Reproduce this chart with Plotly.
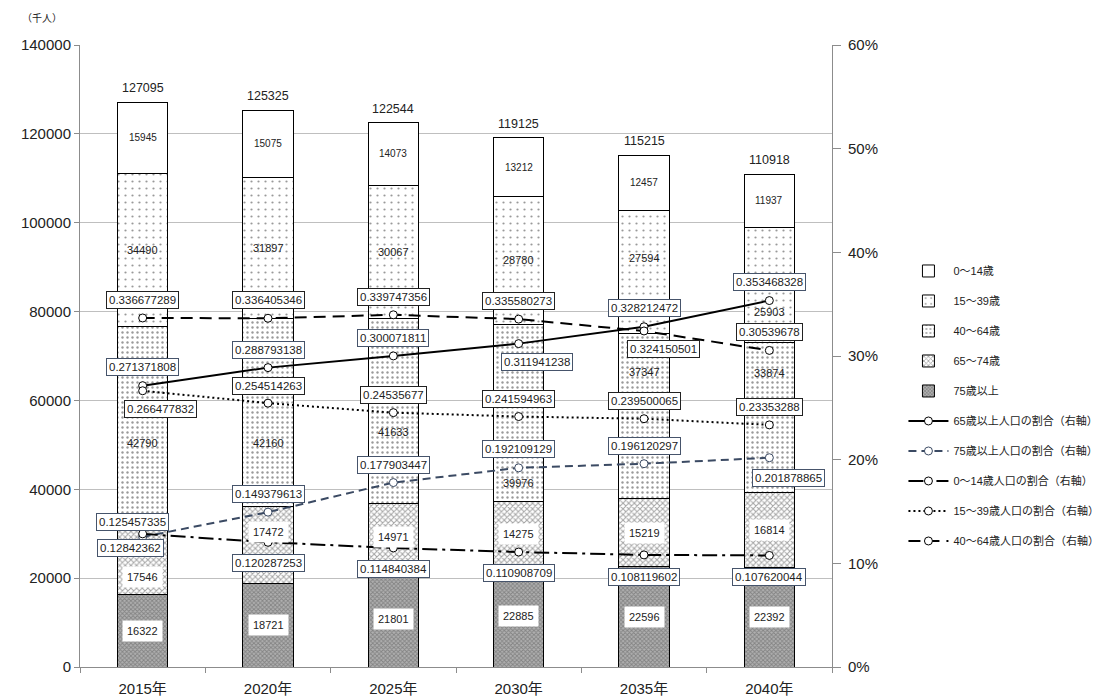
import plotly.graph_objects as go
import numpy as np

# ---- data ----
years = ["2015年", "2020年", "2025年", "2030年", "2035年", "2040年"]
totals = [127095, 125325, 122544, 119125, 115215, 110918]

pop_75_plus = [16322, 18721, 21801, 22885, 22596, 22392]
pop_65_74 = [17546, 17472, 14971, 14275, 15219, 16814]
pop_40_64 = [42790, 42160, 41633, 39976, 37347, 33874]
pop_15_39 = [34490, 31897, 30067, 28780, 27594, 25903]
pop_0_14 = [15945, 15075, 14073, 13212, 12457, 11937]

ratio_65_plus = [0.271371808, 0.288793138, 0.300071811, 0.311941238, 0.328212472, 0.353468328]
ratio_75_plus = [0.125457335, 0.149379613, 0.177903447, 0.192109129, 0.196120297, 0.201878865]
ratio_0_14 = [0.12842362, 0.120287253, 0.114840384, 0.110908709, 0.108119602, 0.107620044]
ratio_15_39 = [0.266477832, 0.254514263, 0.24535677, 0.241594963, 0.239500065, 0.23353288]
ratio_40_64 = [0.336677289, 0.336405346, 0.339747356, 0.335580273, 0.324150501, 0.30539678]

FONT = "Arial, 'Liberation Sans', 'Noto Sans CJK JP', sans-serif"
TXT = "#222222"

fig = go.Figure()

# ---- stacked bars (bottom to top) ----
bar_specs = [
    ("75歳以上", pop_75_plus, dict(shape="x", size=3, solidity=0.5, fgcolor="#555555", bgcolor="#b0b0b0"), 5),
    ("65～74歳", pop_65_74, dict(shape="x", size=4, solidity=0.45, fgcolor="#4a4a4a", bgcolor="#ffffff"), 4),
    ("40～64歳", pop_40_64, dict(shape=".", size=5, solidity=0.18, fgcolor="#333333", bgcolor="#ffffff"), 3),
    ("15～39歳", pop_15_39, dict(shape=".", size=7, solidity=0.08, fgcolor="#333333", bgcolor="#ffffff"), 2),
    ("0～14歳", pop_0_14, dict(shape="", bgcolor="#ffffff"), 1),
]
for name, vals, pat, rank in bar_specs:
    fig.add_trace(go.Bar(
        x=years, y=vals, name=name,
        marker=dict(color="#ffffff", pattern=pat, line=dict(color="#000000", width=1)),
        legendrank=rank, legendgroup=name, yaxis="y",
        hoverinfo="skip",
    ))

# ---- ratio lines on the right axis ----
line_specs = [
    ("65歳以上人口の割合（右軸）", ratio_65_plus, "#000000", "solid", 6),
    ("75歳以上人口の割合（右軸）", ratio_75_plus, "#3b4a63", "8px,5px", 7),
    ("0～14歳人口の割合（右軸）", ratio_0_14, "#000000", "15px,5px,3px,5px", 8),
    ("15～39歳人口の割合（右軸）", ratio_15_39, "#000000", "2px,3px", 9),
    ("40～64歳人口の割合（右軸）", ratio_40_64, "#000000", "12px,7px", 10),
]
for name, vals, color, dash, rank in line_specs:
    fig.add_trace(go.Scatter(
        x=years, y=vals, name=name, yaxis="y2", mode="lines+markers",
        line=dict(color=color, width=2, dash=dash),
        marker=dict(symbol="circle", size=8, color="#ffffff", line=dict(color=color, width=1)),
        legendrank=rank, legendgroup=name, hoverinfo="skip",
    ))

annotations = []

# ---- segment value labels ----
stack_order = [pop_75_plus, pop_65_74, pop_40_64, pop_15_39, pop_0_14]
seg_shift = {  # vertical nudges (px) applied to individual segment labels
    1: [-21, 13, 0, 0, 0, 0],
    2: [-22, -30, -21, -70, 44, 45],
    3: [0, 0, 0, 0, 14, -27],
}
base = np.zeros(len(years))
for si, vals in enumerate(stack_order):
    vals = np.array(vals, dtype=float)
    for i, yr in enumerate(years):
        boxed = si in (0, 1)
        annotations.append(dict(
            x=yr, y=base[i] + vals[i] / 2, xref="x", yref="y",
            text=str(int(vals[i])), showarrow=False,
            yshift=seg_shift.get(si, [0] * 6)[i],
            font=dict(family=FONT, size=10 if si == 4 else 11, color=TXT),
            bgcolor="#ffffff" if boxed else None, borderpad=4 if boxed else 0,
        ))
    base += vals

# ---- total labels above bars ----
for yr, tot, top in zip(years, totals, base):
    annotations.append(dict(
        x=yr, y=top, xref="x", yref="y", text=str(tot), showarrow=False,
        yanchor="bottom", yshift=5,
        font=dict(family=FONT, size=12.5, color=TXT),
    ))

# ---- ratio labels (boxed) ----
label_offsets = {  # (yshift, xshift) in px per point
    0: [(19, 0), (18, 0), (18, 0), (-18, 18), (19, 0), (19, 0)],
    1: [(15, -10), (18, 0), (18, 0), (19, 0), (18, 0), (-20, 19)],
    2: [(-14, -12), (-21, 0), (-21, 0), (-21, 0), (-22, 0), (-22, 0)],
    3: [(-18, 18), (17, 0), (18, 0), (18, 0), (18, 0), (18, 0)],
    4: [(18, 0), (18, 0), (18, 0), (18, 0), (-18, 19), (18, 0)],
}
box_colors = ["#46546b", "#46546b", "#46546b", "#222222", "#222222"]
for li, (name, vals, color, dash, rank) in enumerate(line_specs):
    for i, yr in enumerate(years):
        dy, dx = label_offsets[li][i]
        annotations.append(dict(
            x=yr, y=vals[i], xref="x", yref="y2", text=str(vals[i]), showarrow=False,
            yshift=dy, xshift=dx,
            font=dict(family=FONT, size=11.5, color=TXT),
            bgcolor="#ffffff", bordercolor=box_colors[li], borderwidth=1, borderpad=2,
        ))

# unit label
annotations.append(dict(
    x=-0.08, y=1.042, xref="paper", yref="paper", text="（千人）", showarrow=False,
    xanchor="left", yanchor="middle", font=dict(family=FONT, size=10, color=TXT),
))

fig.update_layout(
    width=1114, height=699,
    margin=dict(l=80, r=282, t=45, b=32, autoexpand=False),
    paper_bgcolor="#ffffff", plot_bgcolor="#ffffff",
    barmode="stack", bargap=0.6,
    font=dict(family=FONT, color=TXT),
    xaxis=dict(
        showline=True, linecolor="#8c8c8c", linewidth=1,
        ticks="outside", tickson="boundaries", ticklen=5, tickcolor="#8c8c8c",
        tickfont=dict(family=FONT, size=15, color=TXT), ticklabelstandoff=8,
        showgrid=False,
    ),
    yaxis=dict(
        range=[0, 140000], dtick=20000, tickformat="d",
        showline=True, linecolor="#8c8c8c", linewidth=1,
        ticks="outside", ticklen=5, tickcolor="#8c8c8c",
        showgrid=True, gridcolor="#bfbfbf", gridwidth=1, zeroline=False,
        tickfont=dict(family=FONT, size=15, color=TXT),
    ),
    yaxis2=dict(
        overlaying="y", side="right", range=[0, 0.6], dtick=0.1, tickformat=".0%",
        showline=True, linecolor="#8c8c8c", linewidth=1,
        ticks="outside", ticklen=8, tickcolor="#8c8c8c", ticklabelstandoff=4,
        showgrid=False, zeroline=False,
        tickfont=dict(family=FONT, size=15, color=TXT),
    ),
    legend=dict(
        x=1.095, y=0.66, xanchor="left", yanchor="top",
        traceorder="grouped", tracegroupgap=11, itemwidth=40,
        font=dict(family=FONT, size=11, color=TXT),
        bgcolor="rgba(0,0,0,0)",
    ),
    annotations=annotations,
    showlegend=True,
)

fig.write_html("out.html")
